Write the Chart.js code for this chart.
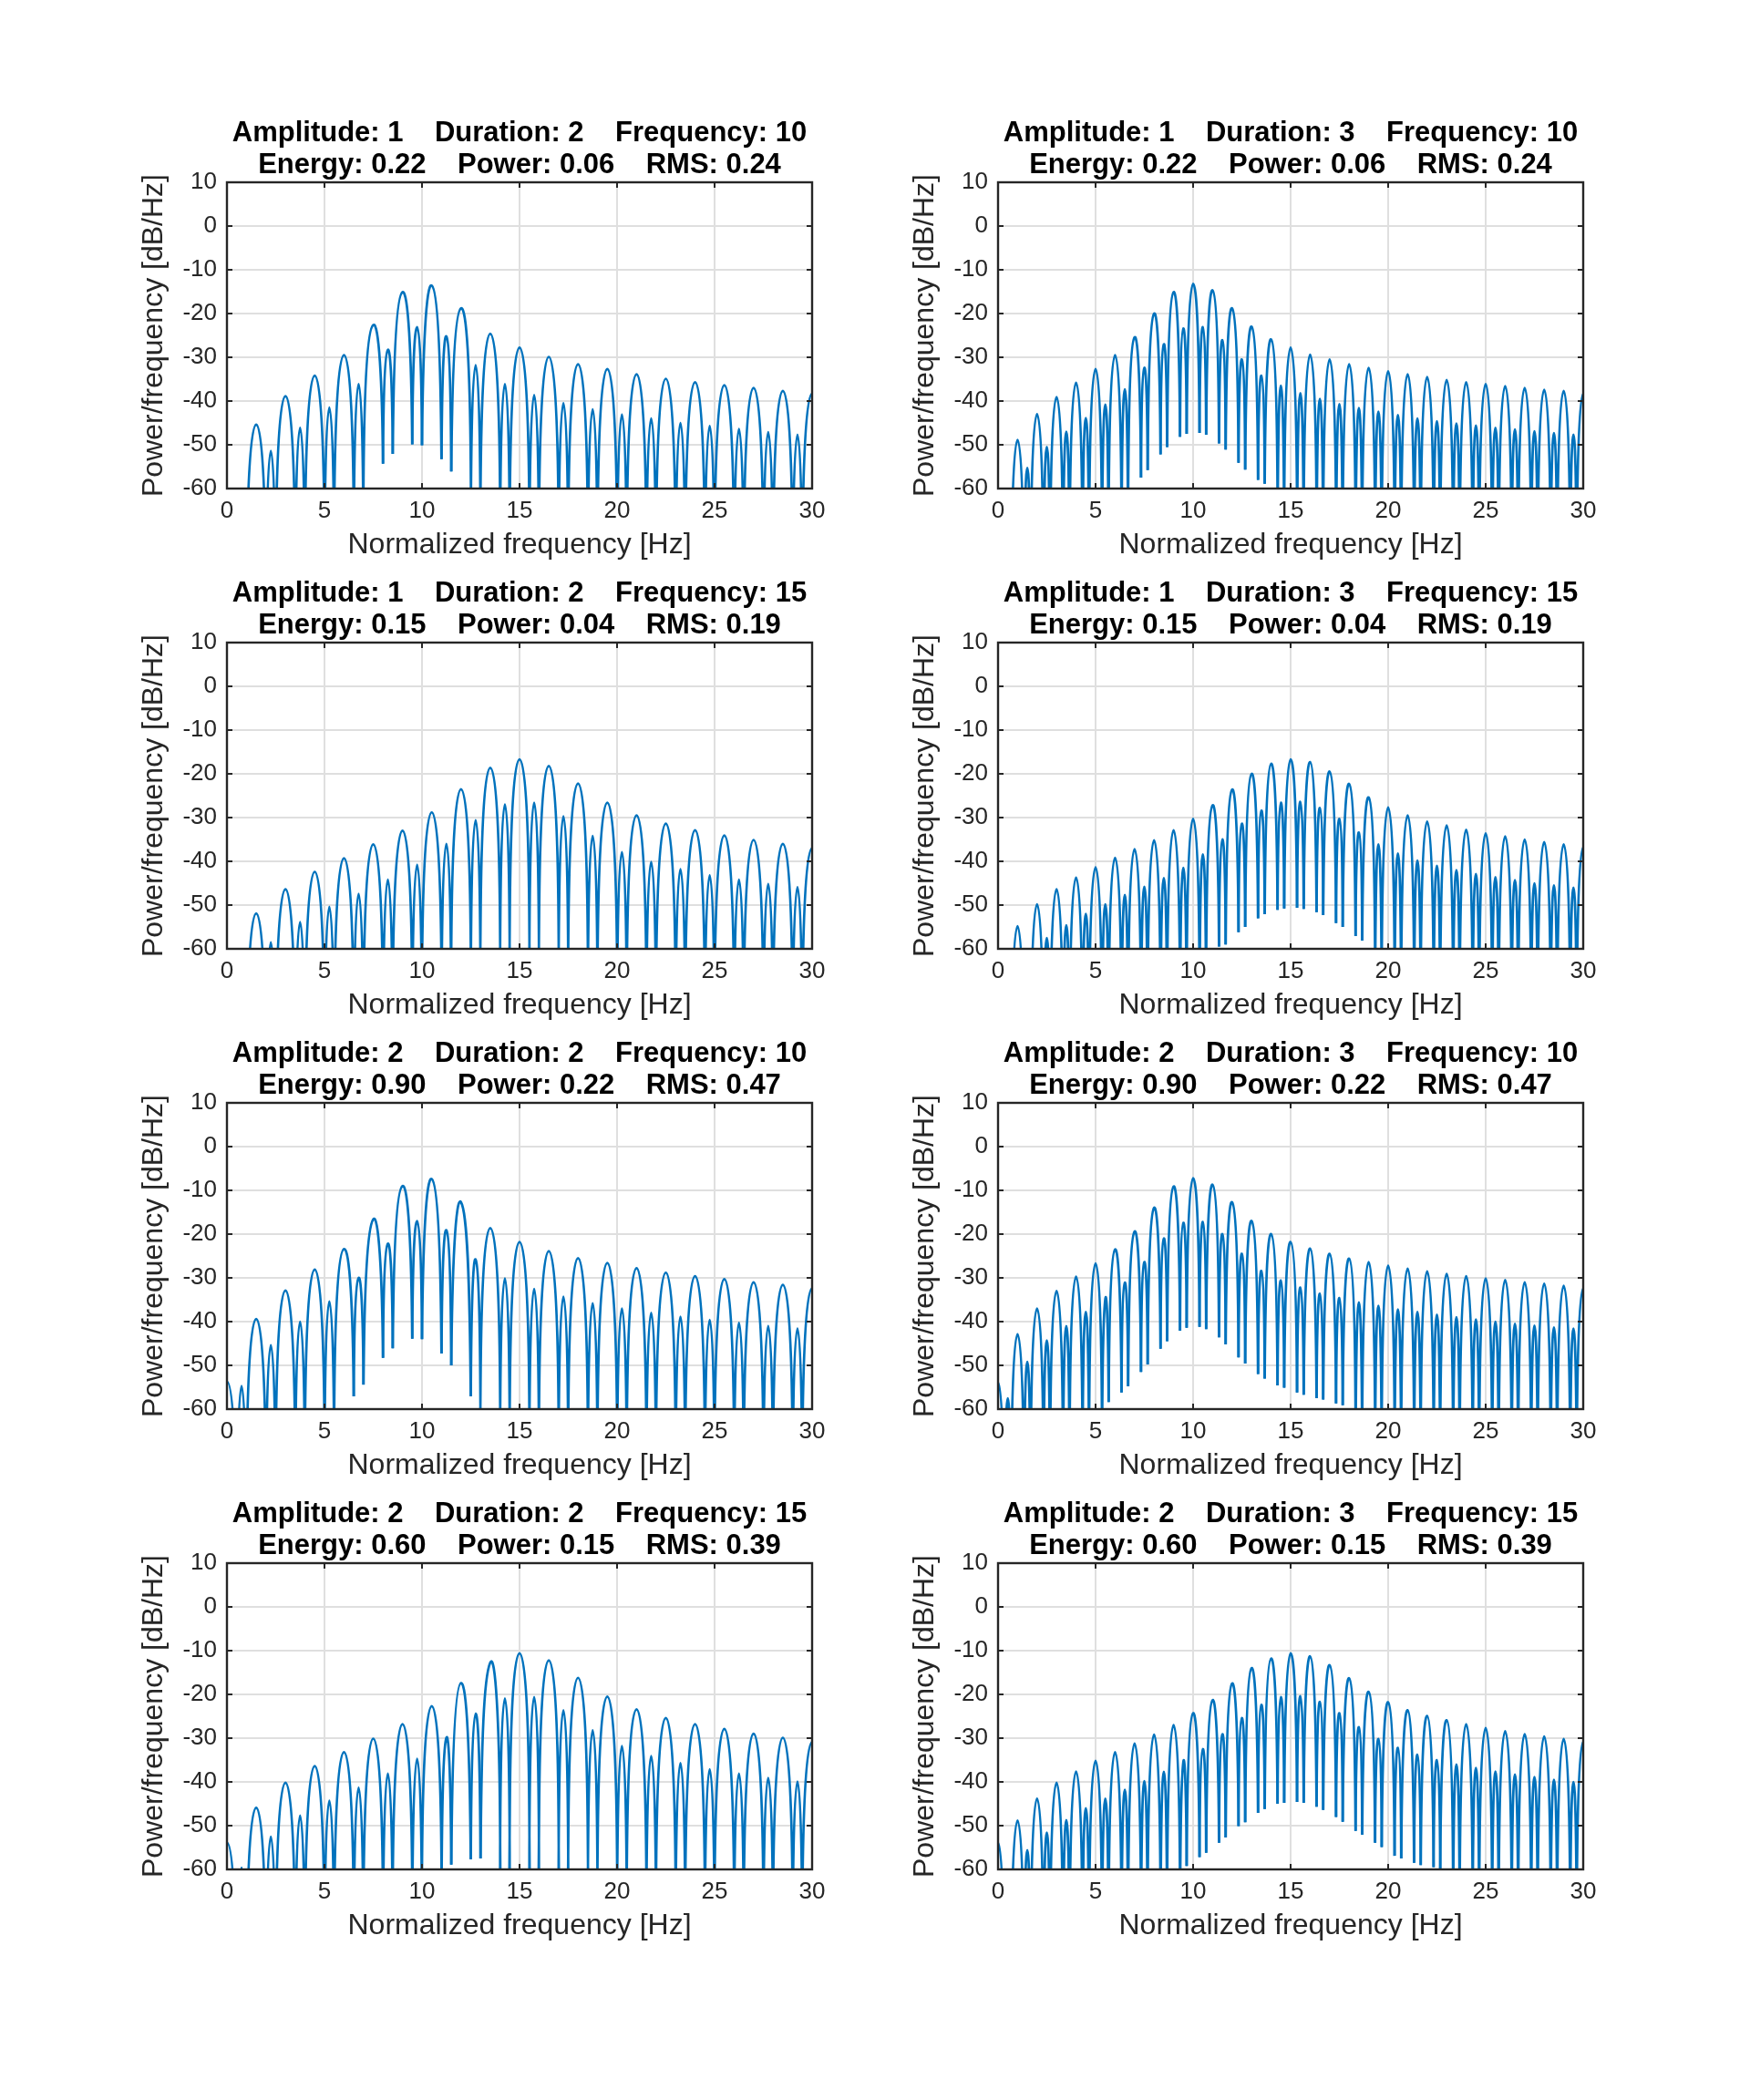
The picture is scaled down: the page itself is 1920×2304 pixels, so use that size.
<!DOCTYPE html>
<html>
<head>
<meta charset="utf-8">
<script src="https://cdn.jsdelivr.net/npm/chart.js@4.4.1/dist/chart.umd.min.js"></script>
<style>
  body { margin: 0; background: #fff; width: 1920px; height: 2304px; position: relative; overflow: hidden; }
  canvas { position: absolute; }
</style>
</head>
<body>
<script>
const _ = null; // null below the axis, depth not readable

// lobe centres and nulls, duration 2 s
const peakXD2 = [0, 0.75, 1.5, 2.25, 3, 3.75, 4.5, 5.25, 6, 6.75, 7.5, 8.25, 9, 9.75, 10.5, 11.25, 12, 12.75, 13.5, 14.25,
  15, 15.75, 16.5, 17.25, 18, 18.75, 19.5, 20.25, 21, 21.75, 22.5, 23.25, 24, 24.75, 25.5, 26.25, 27, 27.75, 28.5, 29.25, 30];
const nullXD2 = [0.5, 1, 2, 2.5, 3.5, 4, 5, 5.5, 6.5, 7, 8, 8.5, 9.5, 10, 11, 11.5, 12.5, 13, 14, 14.5,
  15.5, 16, 17, 17.5, 18.5, 19, 20, 20.5, 21.5, 22, 23, 23.5, 24.5, 25, 26, 26.5, 27.5, 28, 29, 29.5];

// lobe centres and nulls, duration 3 s
const peakXD3 = [0, 0.5, 1, 1.5, 2, 2.5, 3, 3.5, 4, 4.5, 5, 5.5, 6, 6.5, 7, 7.5, 8, 8.5, 9, 9.5, 10, 10.5, 11, 11.5, 12, 12.5,
  13, 13.5, 14, 14.5, 15, 15.5, 16, 16.5, 17, 17.5, 18, 18.5, 19, 19.5, 20, 20.5, 21, 21.5, 22, 22.5, 23, 23.5, 24, 24.5,
  25, 25.5, 26, 26.5, 27, 27.5, 28, 28.5, 29, 29.5, 30];
const nullXD3 = [0.33, 0.67, 1.33, 1.67, 2.33, 2.67, 3.33, 3.67, 4.33, 4.67, 5.33, 5.67, 6.33, 6.67, 7.33, 7.67, 8.33, 8.67,
  9.33, 9.67, 10.33, 10.67, 11.33, 11.67, 12.33, 12.67, 13.33, 13.67, 14.33, 14.67, 15.33, 15.67, 16.33, 16.67, 17.33, 17.67,
  18.33, 18.67, 19.33, 19.67, 20.33, 20.67, 21.33, 21.67, 22.33, 22.67, 23.33, 23.67, 24.33, 24.67, 25.33, 25.67, 26.33, 26.67,
  27.33, 27.67, 28.33, 28.67, 29.33, 29.67];

// peak levels (dB/Hz) and visible null depths for each panel
const peaks1 = [-60, -65, -45.4, -51.4, -38.9, -46.1, -34.2, -41.5, -29.5, -36.1, -22.6, -28.3, -15.1, -23.1, -13.6, -25.2,
  -18.8, -31.8, -24.6, -36.1, -27.8, -38.6, -29.9, -40.5, -31.6, -41.9, -32.7, -43.1, -33.9, -44.0, -34.9, -45.0, -35.7,
  -45.7, -36.4, -46.4, -37.0, -47.1, -37.7, -47.7, -38.3];
const nulls1 = [_, _, _, _, _, _, _, _, _, _, -54.3, -52.1, -49.9, -50.1, -53.3, -56.1,
  _, _, _, _, _, _, _, _, _, _, _, _, _, _, _, _, _, _, _, _, _, _, _, _];

const peaks2 = [-60, -63.5, -48.9, -55.3, -43.0, -50.5, -39.1, -47.0, -35.8, -43.9, -32.7, -40.8, -29.5, -37.3, -25.4, -32.4,
  -20.0, -27.0, -15.1, -23.4, -13.2, -23.1, -14.7, -26.1, -18.8, -30.5, -23.0, -34.2, -25.9, -36.5, -27.8, -38.2, -29.4,
  -39.5, -30.5, -40.7, -31.6, -41.6, -32.4, -42.4, -33.2, -43.2, -33.9, -44.0, -34.5, -44.6, -35.2, -45.1, -35.7, -45.6,
  -36.1, -46.1, -36.6, -46.5, -37.0, -46.9, -37.4, -47.3, -37.7, -47.7, -38.3];
const nulls2 = [_, _, _, _, _, _, _, _, _, _, _, _, _, _, -57.5, -55.8, -52.2, -50.5, -48.2, -47.5, -47.3, -47.7, -49.7,
  -51.1, -54.1, -55.7, -58.0, -58.9, _, _, _, _, _, _, _, _, _, _, _, _, _, _, _, _, _, _, _, _, _, _, _, _, _, _, _, _,
  _, _, _, _];

const peaks3 = [-60, -65.6, -51.9, -58.5, -46.4, -53.9, -42.4, -50.4, -39.3, -47.4, -36.1, -44.2, -33.0, -40.8, -28.8, -36.0,
  -23.5, -30.6, -18.6, -27.0, -16.7, -26.6, -18.2, -29.7, -22.2, -34.2, -26.6, -37.9, -29.5, -40.1, -31.4, -41.8, -32.9,
  -43.2, -34.1, -44.2, -35.1, -45.2, -36.0, -45.9, -37.0];
const nulls3 = [_, _, _, _, _, _, _, _, _, _, _, _, _, _, _, _, _, _, _, _,
  _, _, _, _, _, _, _, _, _, _, _, _, _, _, _, _, _, _, _, _];

const peaks4 = [-60, -66, -54.8, -61.6, -49.8, -57.5, -46.4, -54.6, -43.7, -52.0, -41.4, -49.8, -39.2, -47.7, -37.2, -45.8,
  -35.2, -43.8, -32.9, -41.5, -30.3, -38.4, -27.2, -35.0, -23.6, -31.4, -20.0, -28.4, -17.7, -26.6, -16.7, -26.4, -17.3,
  -27.8, -19.5, -30.3, -22.3, -33.4, -25.4, -36.1, -27.7, -38.2, -29.5, -39.8, -30.9, -41.0, -31.8, -42.0, -32.8, -42.9,
  -33.6, -43.6, -34.3, -44.3, -35.0, -45.0, -35.6, -45.5, -36.1, -46.0, -36.8];
const nulls4 = [_, _, _, _, _, _, _, _, _, _, _, _, _, _, _, _, _, _, _, _, _, _, -59.5, -59.0, -56.2, -55.0, -53.0, -52.1,
  -51.1, -50.8, -50.6, -50.9, -51.6, -52.3, -54.1, -55.0, -57.1, -58.1, _, _, _, _, _, _, _, _, _, _, _, _, _, _, _, _,
  _, _, _, _, _, _];

const peaks5 = [-53.7, -54.7, -39.4, -45.4, -32.9, -40.0, -28.1, -35.4, -23.4, -30.0, -16.6, -22.2, -9.0, -17.0, -7.4, -19.1,
  -12.7, -25.8, -18.6, -30.1, -21.8, -32.5, -23.9, -34.3, -25.5, -35.8, -26.6, -37.0, -27.8, -38.0, -28.8, -38.9, -29.6,
  -39.6, -30.3, -40.3, -31.0, -41.0, -31.6, -41.6, -32.4];
const nulls5 = [_, _, _, _, _, _, _, _, -57.1, -54.4, -48.3, -46.1, -43.9, -44.0, -47.3, -50.0, -57.1,
  _, _, _, _, _, _, _, _, _, _, _, _, _, _, _, _, _, _, _, _, _, _, _];

const peaks6 = [-53.9, -57.5, -42.9, -49.2, -37.0, -44.3, -33.0, -41.0, -29.7, -37.8, -26.7, -34.8, -23.5, -31.1, -19.4, -26.4,
  -14.0, -21.0, -9.1, -17.4, -7.2, -17.2, -8.7, -20.0, -12.7, -24.5, -17.0, -28.4, -20.0, -30.6, -21.8, -32.2, -23.3,
  -33.6, -24.5, -34.6, -25.6, -35.6, -26.4, -36.4, -27.2, -37.2, -27.9, -37.8, -28.5, -38.4, -29.1, -39.0, -29.6, -39.5,
  -30.1, -40.0, -30.5, -40.5, -31.0, -40.9, -31.3, -41.3, -31.8, -41.6, -32.4];
const nulls6 = [_, _, _, _, _, _, _, _, _, _, _, -58.4, -56.2, -54.8, -51.5, -49.8, -46.2, -44.5, -42.1, -41.4, -41.2,
  -41.7, -43.6, -45.2, -48.2, -49.6, -52.0, -53.0, -54.6, -55.1, -56.2, -56.7, -57.5, -57.8, -58.7, -59.1,
  _, _, _, _, _, _, _, _, _, _, _, _, _, _, _, _, _, _, _, _, _, _, _, _];

const peaks7 = [-53.9, -59.6, -45.9, -52.5, -40.2, -47.7, -36.4, -44.3, -33.2, -41.3, -30.1, -38.1, -26.8, -34.7, -22.7, -29.9,
  -17.4, -24.4, -12.7, -20.9, -10.6, -20.6, -12.2, -23.6, -16.2, -28.2, -20.5, -31.8, -23.4, -34.1, -25.4, -35.7, -26.8,
  -37.1, -27.9, -38.1, -29.0, -39.1, -29.9, -39.9, -30.9];
const nulls7 = [_, _, _, _, _, _, _, _, _, _, _, _, _, _, _, -58.9, -57.7, -57.5,
  _, _, _, _, _, _, _, _, _, _, _, _, _, _, _, _, _, _, _, _, _, _];

const peaks8 = [-53.9, -61, -48.8, -55.6, -43.8, -51.6, -40.2, -48.7, -37.6, -46.0, -35.2, -43.8, -33.2, -41.8, -31.2, -39.8,
  -29.2, -37.7, -27.0, -35.4, -24.3, -32.5, -21.3, -29.1, -17.5, -25.4, -14.0, -22.4, -11.8, -20.6, -10.6, -20.4, -11.3,
  -21.7, -13.3, -24.3, -16.3, -27.5, -19.4, -30.2, -21.8, -32.2, -23.6, -33.8, -24.9, -35.0, -25.9, -36.0, -26.8, -36.8,
  -27.7, -37.6, -28.4, -38.3, -29.1, -38.9, -29.6, -39.5, -30.2, -40.0, -30.8];
const nulls8 = [_, _, _, _, _, _, _, _, _, _, _, _, _, _, _, _, _, _, _, -59.2, -57.2, -56.2, -53.9, -52.7, -50.1, -49.2,
  -47.1, -46.2, -45.0, -44.8, -44.6, -44.8, -45.7, -46.4, -48.0, -49.1, -51.2, -52.1, -53.9, -54.9, -56.9, -57.5, -58.5,
  -59.0, -59.5, -59.8, _, _, _, _, _, _, _, _, _, _, _, _, _, _];

const titles = [
  ["Amplitude: 1    Duration: 2    Frequency: 10", "Energy: 0.22    Power: 0.06    RMS: 0.24"],
  ["Amplitude: 1    Duration: 3    Frequency: 10", "Energy: 0.22    Power: 0.06    RMS: 0.24"],
  ["Amplitude: 1    Duration: 2    Frequency: 15", "Energy: 0.15    Power: 0.04    RMS: 0.19"],
  ["Amplitude: 1    Duration: 3    Frequency: 15", "Energy: 0.15    Power: 0.04    RMS: 0.19"],
  ["Amplitude: 2    Duration: 2    Frequency: 10", "Energy: 0.90    Power: 0.22    RMS: 0.47"],
  ["Amplitude: 2    Duration: 3    Frequency: 10", "Energy: 0.90    Power: 0.22    RMS: 0.47"],
  ["Amplitude: 2    Duration: 2    Frequency: 15", "Energy: 0.60    Power: 0.15    RMS: 0.39"],
  ["Amplitude: 2    Duration: 3    Frequency: 15", "Energy: 0.60    Power: 0.15    RMS: 0.39"]
];

const panels = [
  { px: peakXD2, nx: nullXD2, peaks: peaks1, nulls: nulls1 },
  { px: peakXD3, nx: nullXD3, peaks: peaks2, nulls: nulls2 },
  { px: peakXD2, nx: nullXD2, peaks: peaks3, nulls: nulls3 },
  { px: peakXD3, nx: nullXD3, peaks: peaks4, nulls: nulls4 },
  { px: peakXD2, nx: nullXD2, peaks: peaks5, nulls: nulls5 },
  { px: peakXD3, nx: nullXD3, peaks: peaks6, nulls: nulls6 },
  { px: peakXD2, nx: nullXD2, peaks: peaks7, nulls: nulls7 },
  { px: peakXD3, nx: nullXD3, peaks: peaks8, nulls: nulls8 }
];

const blue = "#0072BD";
const ink = "#262626";
const gridColor = "#dfdfdf";
const family = '"Liberation Sans", Arial, Helvetica, sans-serif';

// drawing helpers for the lobe shape (not data): the arch turns into a
// vertical wall WALL dB under its peak, walls drop into the null at FLOOR
const WALL = 35;
const FLOOR = -300;
const EPS = 0.004;

function buildLine(px, py, nx, nd) {
  const pts = [];
  const hide = new Set();
  pts.push({ x: -nx[0], y: py[0] - WALL }); // mirror so 0 Hz starts flat
  for (let i = 0; i < py.length; i++) {
    pts.push({ x: px[i], y: py[i] });
    if (i < nx.length) {
      const d = nd[i];
      const left = d === null ? py[i] - WALL : d;
      const right = d === null ? py[i + 1] - WALL : d;
      pts.push({ x: nx[i] - EPS, y: left });
      if (d !== null) hide.add(pts.length); // visible null: tip stops at its depth
      pts.push({ x: nx[i], y: FLOOR });
      pts.push({ x: nx[i] + EPS, y: right });
    }
  }
  const last = px.length - 1;
  pts.push({ x: 2 * px[last] - nx[nx.length - 1], y: py[last] - WALL });
  return { pts, hide };
}

// black box with inward ticks, like the original axes
const boxPlugin = {
  id: "box",
  afterDraw(chart) {
    const { ctx, chartArea: a, scales: { x, y } } = chart;
    ctx.save();
    ctx.strokeStyle = ink;
    ctx.lineWidth = 2;
    ctx.beginPath();
    x.ticks.forEach(t => {
      const p = x.getPixelForValue(t.value);
      ctx.moveTo(p, a.bottom); ctx.lineTo(p, a.bottom - 6);
      ctx.moveTo(p, a.top); ctx.lineTo(p, a.top + 6);
    });
    y.ticks.forEach(t => {
      const p = y.getPixelForValue(t.value);
      ctx.moveTo(a.left, p); ctx.lineTo(a.left + 6, p);
      ctx.moveTo(a.right, p); ctx.lineTo(a.right - 6, p);
    });
    ctx.stroke();
    ctx.lineWidth = 2.4;
    ctx.strokeRect(a.left, a.top, a.right - a.left, a.bottom - a.top);
    ctx.restore();
  }
};

panels.forEach((p, i) => {
  const col = i % 2;
  const row = Math.floor(i / 2);
  const cv = document.createElement("canvas");
  cv.width = 882;
  cv.height = 491;
  cv.style.left = (col ? 975 : 129) + "px";
  cv.style.top = (129 + 505 * row) + "px";
  document.body.appendChild(cv);

  const { pts, hide } = buildLine(p.px, p.peaks, p.nx, p.nulls);

  new Chart(cv, {
    type: "line",
    data: {
      datasets: [{
        data: pts,
        borderColor: blue,
        borderWidth: 2.7,
        pointRadius: 0,
        tension: 0.6,
        fill: false,
        clip: 0,
        segment: {
          borderColor: ctx => (hide.has(ctx.p0DataIndex) || hide.has(ctx.p1DataIndex)) ? "rgba(0,0,0,0)" : blue
        }
      }]
    },
    options: {
      responsive: false,
      animation: false,
      events: [],
      layout: { padding: 0 },
      elements: { line: { capBezierPoints: false } },
      plugins: {
        legend: { display: false },
        tooltip: { enabled: false },
        title: {
          display: true,
          text: titles[i],
          color: "#000",
          font: { family, size: 31, weight: "bold", lineHeight: 35 / 31 },
          padding: { top: 0, bottom: 1 }
        }
      },
      scales: {
        x: {
          type: "linear",
          min: 0,
          max: 30,
          afterFit: s => { s.height = 84; },
          ticks: { stepSize: 5, padding: 9.3, color: ink, autoSkip: false, maxRotation: 0, font: { family, size: 26 } },
          grid: { color: gridColor, lineWidth: 2, drawTicks: false },
          border: { display: false },
          title: {
            display: true,
            text: "Normalized frequency [Hz]",
            color: ink,
            font: { family, size: 32 },
            padding: { top: 0, bottom: 2.8 }
          }
        },
        y: {
          type: "linear",
          min: -60,
          max: 10,
          afterFit: s => { s.width = 120; },
          ticks: { stepSize: 10, padding: 11, color: ink, font: { family, size: 26 } },
          grid: { color: gridColor, lineWidth: 2, drawTicks: false },
          border: { display: false },
          title: {
            display: true,
            text: "Power/frequency [dB/Hz]",
            color: ink,
            font: { family, size: 32 },
            padding: { top: 20.8, bottom: 0 }
          }
        },
        // empty right-hand axis, keeps the title centred over the plot box
        yPad: {
          type: "linear",
          position: "right",
          min: -60,
          max: 10,
          afterFit: s => { s.width = 120; },
          ticks: { display: false },
          grid: { display: false },
          border: { display: false }
        }
      }
    },
    plugins: [boxPlugin]
  });
});
</script>
</body>
</html>
